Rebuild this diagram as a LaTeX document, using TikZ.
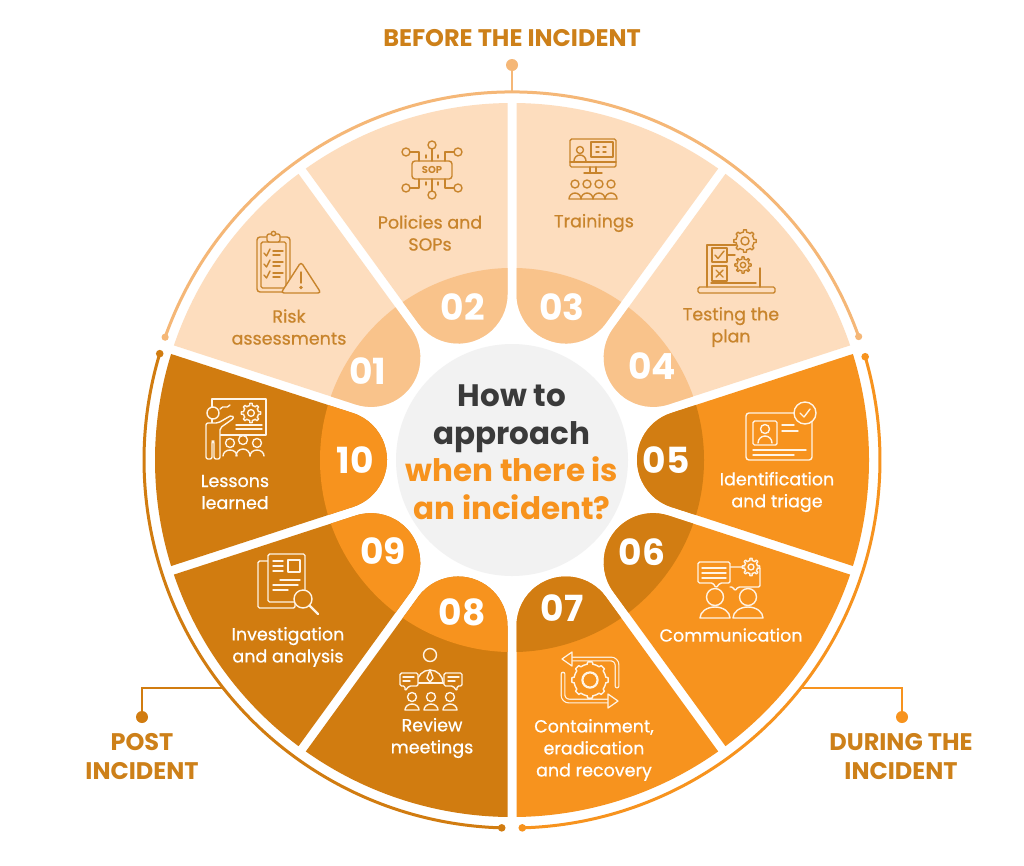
\documentclass[tikz,border=0pt]{standalone}
\usepackage{fontspec}
\setmainfont{Poppins}
\newfontfamily\medfont[FakeBold=0.7]{Poppins}
\usetikzlibrary{arrows.meta}
\definecolor{befL}{HTML}{FDDDBE}
\definecolor{befM}{HTML}{F9C38B}
\definecolor{durM}{HTML}{F7931E}
\definecolor{durD}{HTML}{D27D12}
\definecolor{postM}{HTML}{D17C10}
\definecolor{postB}{HTML}{F7931E}
\definecolor{befTxt}{HTML}{C8842C}
\definecolor{befRing}{HTML}{F5B777}
\definecolor{labTxt}{HTML}{CD8019}
\definecolor{ctrGrey}{HTML}{F2F2F2}
\definecolor{ctrDark}{HTML}{3A3A3A}
\definecolor{ctrOr}{HTML}{F7931E}
\definecolor{icW}{HTML}{FFF4E6}
\tikzset{
  ic/.style={line width=1.4pt, line cap=round, line join=round},
  sectxt/.style={align=center, font=\medfont\fontsize{17.5}{22}\selectfont},
  numtxt/.style={text=white, font=\fontsize{36}{36}\selectfont\bfseries},
  grouplab/.style={text=labTxt, align=center, font=\fontsize{24}{29}\selectfont\bfseries},
}
\newcommand\secpath{(159.13,-46.97) -- (340.89,-106.03) arc[start angle=-17.28, end angle=17.28, radius=357] -- (159.13,46.97) arc[start angle=108, end angle=252, radius=49.39] -- cycle}
\newcommand\mysector[3]{%
  \begin{scope}[shift={(512,-460)}, rotate=#1]
    \fill[#2] \secpath;
    \begin{scope}
      \clip \secpath;
      \fill[#3] (0,0) circle (192);
    \end{scope}
  \end{scope}}
\newcommand\icgear[4]{%
  \draw[fill=#4] plot[domain=0:360, samples=145, variable=\t] ({#1+(#3+2.2*(cos(8*\t)>0.2))*cos(\t)}, {#2+(#3+2.2*(cos(8*\t)>0.2))*sin(\t)}) -- cycle;
  \draw (#1,#2) circle ({0.45*#3});}
\begin{document}
\begin{tikzpicture}[x=1pt,y=1pt]
\useasboundingbox (0,0) rectangle (1024,-865);
\fill[white] (0,0) rectangle (1024,-865);

% sectors
\mysector{108}{befL}{befM}
\mysector{72}{befL}{befM}
\mysector{36}{befL}{befM}
\mysector{144}{befL}{befM}
\mysector{0}{durM}{durD}
\mysector{-36}{durM}{durD}
\mysector{-72}{durM}{durD}
\mysector{-108}{postM}{postB}
\mysector{-144}{postM}{postB}
\mysector{180}{postM}{postB}

% centre
\fill[ctrGrey] (512,-460) circle (116);
\node[align=center, font=\fontsize{31}{37.5}\selectfont\bfseries] (ctr) at (512,-452)
  {\textcolor{ctrDark}{How to}\\\textcolor{ctrDark}{approach}\\\textcolor{ctrOr}{when there is}\\\textcolor{ctrOr}{an incident?}};

% outer ring
\begin{scope}[shift={(512,-460)}]
  \draw[befRing, line width=3pt] (19.6:368) arc[start angle=19.6, end angle=160.5, radius=368];
  \fill[befRing] (19.6:368) circle (3.6) (160.5:368) circle (3.6);
  \draw[durM, line width=3pt] (-88.4:368) arc[start angle=-88.4, end angle=16.3, radius=368];
  \fill[durM] (-88.4:368) circle (3.8) (16.3:368) circle (3.8);
  \draw[postM, line width=3pt] (163.2:368) arc[start angle=163.2, end angle=268.4, radius=368];
  \fill[postM] (163.2:368) circle (3.8) (268.4:368) circle (3.8);
\end{scope}

% group labels and connectors
\coordinate (ringTop) at (512,-92);
\coordinate (dotTop) at (512,-65);
\coordinate (ringPost) at (223.2,-688);
\coordinate (bendPost) at (142,-688);
\coordinate (dotPost) at (142,-717);
\coordinate (ringDur) at (800.8,-688);
\coordinate (bendDur) at (902,-688);
\coordinate (dotDur) at (902,-717);
\draw[befRing, line width=2.5pt] (ringTop) -- (dotTop);
\fill[befRing] (dotTop) circle (6);
\draw[postM, line width=2.5pt] (ringPost) -- (bendPost) -- (dotPost);
\fill[postM] (dotPost) circle (6);
\draw[durM, line width=2.5pt] (ringDur) -- (bendDur) -- (dotDur);
\fill[durM] (dotDur) circle (6);
\node[grouplab] (before) at (512,-38) {BEFORE THE INCIDENT};
\node[grouplab] (post) at (142,-757) {POST\\INCIDENT};
\node[grouplab] (during) at (901,-757) {DURING THE\\INCIDENT};

% numbers
\node[numtxt] (n01) at (368,-371) {01};
\node[numtxt] (n02) at (463,-307) {02};
\node[numtxt] (n03) at (562,-307) {03};
\node[numtxt] (n04) at (652,-366) {04};
\node[numtxt] (n05) at (666,-460) {05};
\node[numtxt] (n06) at (642,-552) {06};
\node[numtxt] (n07) at (562,-608) {07};
\node[numtxt] (n08) at (462,-612) {08};
\node[numtxt] (n09) at (383,-551) {09};
\node[numtxt] (n10) at (355,-460) {10};

% sector labels
\node[sectxt, text=befTxt] (t01) at (289,-327) {Risk\\assessments};
\node[sectxt, text=befTxt] (t02) at (430,-233) {Policies and\\SOPs};
\node[sectxt, text=befTxt] (t03) at (594,-223) {Trainings};
\node[sectxt, text=befTxt] (t04) at (731,-327) {Testing the\\plan};
\node[sectxt, text=white] (t05) at (777,-492) {Identification\\and triage};
\node[sectxt, text=white] (t06) at (731,-635) {Communication};
\node[sectxt, text=white] (t07) at (594,-750) {Containment,\\eradication\\and recovery};
\node[sectxt, text=white] (t08) at (432,-738) {Review\\meetings};
\node[sectxt, text=white] (t09) at (288,-647) {Investigation\\and analysis};
\node[sectxt, text=white] (t10) at (235,-492) {Lessons\\learned};

% icon 01 risk
\begin{scope}[shift={(257,-232)}, yscale=-1, ic, befTxt]
  \draw[rounded corners=3] (0,5) rectangle (33,60);
  \draw[rounded corners=1.5] (4,10) rectangle (29,56);
  \draw[fill=befL, rounded corners=2] (10,2) rectangle (23,10);
  \draw[fill=befL] (16.5,1.5) circle (2.2);
  \foreach \yy in {0,11,22} {
    \draw (7,21+\yy) -- (9.5,24+\yy) -- (13,17+\yy);
    \draw (16,19+\yy) -- (26,19+\yy) (16,23+\yy) -- (23,23+\yy);
  }
  \draw[fill=befL, rounded corners=3] (44,30) -- (64,61) -- (24,61) -- cycle;
  \draw (44,40) -- (44,51);
  \fill (44,55.5) circle (1.8);
\end{scope}

% icon 02 SOP
\begin{scope}[shift={(432,-170)}, yscale=-1, ic, befTxt]
  \draw[rounded corners=3] (-20,-9) rectangle (20,9);
  \node[text=befTxt, font=\fontsize{10}{10}\selectfont\bfseries] (sop) at (0,0) {SOP};
  \draw (0,-9) -- (0,-21);  \draw (0,-25) circle (4);
  \draw (0,9) -- (0,21);  \draw (0,25) circle (4);
  \draw (-13,-9) -- (-13,-18) -- (-22,-18); \draw (-26,-18) circle (4);
  \draw (13,-9) -- (13,-18) -- (22,-18); \draw (26,-18) circle (4);
  \draw (-13,9) -- (-13,18) -- (-22,18); \draw (-26,18) circle (4);
  \draw (13,9) -- (13,18) -- (22,18); \draw (26,18) circle (4);
  \draw (-6,-12) -- (-6,-15) (6,-12) -- (6,-15) (-6,12) -- (-6,15) (6,12) -- (6,15);
\end{scope}

% icon 03 trainings
\begin{scope}[shift={(570,-139)}, yscale=-1, ic, befTxt]
  \draw[rounded corners=1.5] (0,0) rectangle (46,28);
  \draw (0,23) -- (46,23);
  \draw (21,3) rectangle (43,18);
  \draw (26,8) -- (29,8) (33,8) -- (36,8) (26,13) -- (29,13) (33,13) -- (36,13);
  \draw (10,11) circle (3.5);
  \draw (4,22) arc[start angle=180, end angle=360, radius=6];
  \draw (20,28) -- (20,34) (26,28) -- (26,34);
  \draw (14,34) -- (32,34);
  \foreach \xx in {5,17,29,41} {
    \draw (\xx,45) circle (4);
    \draw (\xx-6,60) arc[start angle=180, end angle=360, radius=6] -- cycle;
  }
\end{scope}

% icon 04 testing
\begin{scope}[shift={(698,-230)}, yscale=-1, ic, befTxt]
  \draw (9,57) -- (9,15) -- (38,15);
  \draw (62,38) -- (62,57);
  \draw (13,53) -- (58,53);
  \draw[rounded corners=1.5] (0,57) rectangle (77,63);
  \draw[fill=befL] (14,18) rectangle (29,32);
  \draw (17,25) -- (20,28.5) -- (26,21);
  \draw (29,25) -- (37,25);
  \draw[fill=befL] (14,36) rectangle (29,51);
  \draw (18,40) -- (25,47) (25,40) -- (18,47);
  \icgear{47}{11}{9}{befL}
  \icgear{45}{35}{6}{befL}
\end{scope}

% icon 05 identification
\begin{scope}[shift={(746,-402)}, yscale=-1, ic, icW]
  \draw[rounded corners=3] (0,11) rectangle (66,58);
  \draw[rounded corners=1.5] (7,19) rectangle (31,43);
  \draw (19,27) circle (4.5);
  \draw (12,41) arc[start angle=180, end angle=360, radius=7];
  \draw (36,23) -- (48,23) (36,29) -- (52,29);
  \draw (7,48) -- (60,48) (7,53) -- (48,53);
  \draw[fill=durM] (59,11) circle (11);
  \draw (54,11) -- (58,15) -- (64,7);
\end{scope}

% icon 06 communication
\begin{scope}[shift={(698,-560)}, yscale=-1, ic, icW]
  \draw[rounded corners=1.5] (32,7) -- (62,7) -- (62,27) -- (40,27) -- (37,31) -- (35,27) -- (32,27);
  \draw[fill=durM, rounded corners=1.5] (0,2) -- (32,2) -- (32,23) -- (22,23) -- (18,28) -- (15,23) -- (0,23) -- cycle;
  \draw (4,8) -- (28,8) (4,13) -- (28,13) (4,18) -- (28,18);
  \icgear{53}{7}{6.5}{durM}
  \draw (17,37) circle (8.5);
  \draw (50,37) circle (8.5);
  \draw (2,58) arc[start angle=180, end angle=360, x radius=15, y radius=11] -- cycle;
  \draw (35,58) arc[start angle=180, end angle=360, x radius=15, y radius=11] -- cycle;
\end{scope}

% icon 07 containment
\begin{scope}[shift={(590,-680)}, yscale=-1, ic, icW]
  \draw[rounded corners=6, double=durM, double distance=2.5pt, line width=1.2pt] (27,6) -- (27,-21) -- (-20,-21);
  \draw[fill=durM, line width=1.2pt] (-18,-28) -- (-28,-21) -- (-18,-14) -- cycle;
  \draw[rounded corners=6, double=durM, double distance=2.5pt, line width=1.2pt] (-27,-6) -- (-27,21) -- (20,21);
  \draw[fill=durM, line width=1.2pt] (18,28) -- (28,21) -- (18,14) -- cycle;
  \icgear{0}{0}{16}{durM}
  \draw (0,0) circle (8);
\end{scope}

% icon 08 review
\begin{scope}[shift={(400,-648)}, yscale=-1, ic, icW]
  \draw (30,7) circle (6.5);
  \draw (17,35) arc[start angle=180, end angle=360, radius=13];
  \draw (30,22) -- (27,30) -- (30,34) -- (33,30) -- cycle;
  \draw (4,35) -- (60,35);
  \draw[fill=postM, rounded corners=1.5] (0,25) -- (18,25) -- (18,38) -- (9,38) -- (5,43) -- (5,38) -- (0,38) -- cycle;
  \draw (3,29) -- (14,29) (3,33) -- (10,33);
  \draw[fill=postM, rounded corners=1.5] (44,25) -- (62,25) -- (62,38) -- (57,38) -- (57,43) -- (53,38) -- (44,38) -- cycle;
  \draw (48,29) -- (59,29) (48,33) -- (55,33);
  \foreach \xx in {12,31,50} {
    \draw (\xx,49) circle (4.5);
    \draw (\xx-7,62) arc[start angle=180, end angle=360, x radius=7, y radius=6] -- cycle;
  }
\end{scope}

% icon 09 investigation
\begin{scope}[shift={(258,-553)}, yscale=-1, ic, icW]
  \draw[fill=postM, rounded corners=1.5] (0,8) rectangle (37,55);
  \draw[fill=postM, rounded corners=1.5] (10,1) rectangle (47,49);
  \draw (30,7) rectangle (42,19);
  \draw (15,8) -- (25,8) (15,13) -- (25,13) (15,18) -- (25,18);
  \draw (22,27) -- (42,27) (15,32) -- (40,32) (15,37) -- (30,37);
  \draw[fill=postM] (45,46) circle (9);
  \draw[line width=2.2pt] (51.5,52.5) -- (60,61);
\end{scope}

% icon 10 lessons
\begin{scope}[shift={(200,-395)}, yscale=-1, ic, icW]
  \draw (12,4) rectangle (66,40);
  \icgear{51}{18}{7.5}{postM}
  \draw (36,30) -- (62,30) (36,34) -- (62,34);
  \draw (20,14) .. controls (24,9) and (26,15) .. (30,10);
  \draw[fill=postM] (13,18) circle (6);
  \draw[fill=postM, rounded corners=2] (6,64) -- (6,28) -- (18,28) -- (32,20) -- (34,23) -- (20,33) -- (20,64) -- (14,64) -- (14,46) -- (12,46) -- (12,64) -- cycle;
  \foreach \xx/\yy in {30/48,43/45,57/48} {
    \draw[fill=postM] (\xx,\yy) circle (4.5);
  }
  \draw (23,61) arc[start angle=180, end angle=360, x radius=7, y radius=6];
  \draw (36,61) arc[start angle=180, end angle=360, x radius=7, y radius=7];
  \draw (50,61) arc[start angle=180, end angle=360, x radius=7, y radius=6];
\end{scope}

\end{tikzpicture}
\end{document}
